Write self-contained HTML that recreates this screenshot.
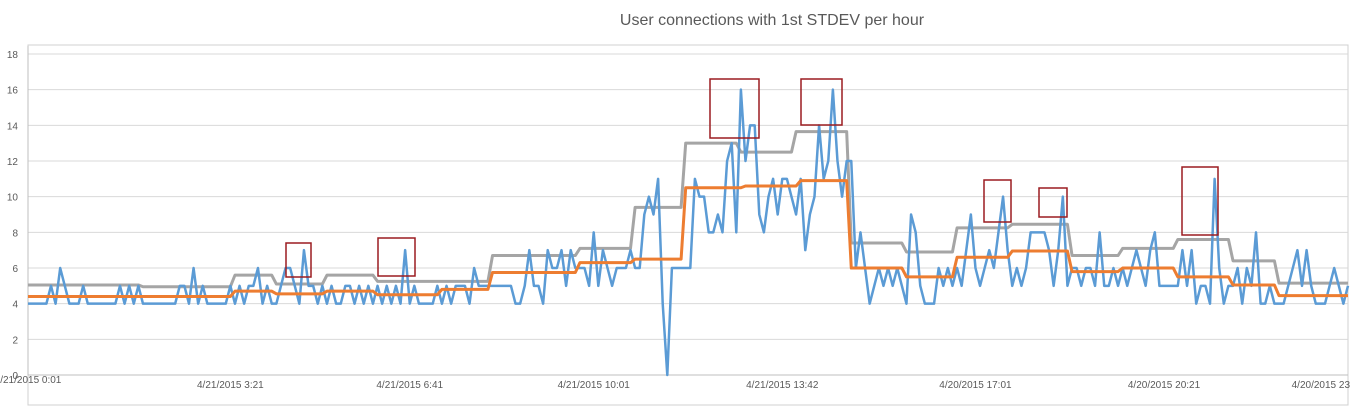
<!DOCTYPE html>
<html><head><meta charset="utf-8"><style>
body{margin:0;background:#fff;}
svg{display:block;font-family:"Liberation Sans",sans-serif;}
</style></head><body>
<svg id="chart" width="1350" height="409" viewBox="0 0 1350 409" xmlns="http://www.w3.org/2000/svg">
<rect x="28" y="45" width="1320" height="360" fill="none" stroke="#d0d0d0" stroke-width="1"/>
<text x="772" y="25" text-anchor="middle" font-size="16" fill="#595959">User connections with 1st STDEV per hour</text>
<g id="grid"></g><g id="yticks"></g><g id="xticks"></g><g id="series"></g><g id="boxes"></g>
</svg>
<script>
const yTicks=[0,2,4,6,8,10,12,14,16,18];
const xTickLabels=["4/21/2015 0:01","4/21/2015 3:21","4/21/2015 6:41","4/21/2015 10:01","4/21/2015 13:42","4/20/2015 17:01","4/20/2015 20:21","4/20/2015 23:4"];
const xTickIdx=[0,44,83,123,164,206,247,282];
const connections=[4,4,4,4,4,5,4,6,5,4,4,4,5,4,4,4,4,4,4,4,5,4,5,4,5,4,4,4,4,4,4,4,4,5,5,4,6,4,5,4,4,4,4,4,
5,4,5,4,5,5,6,4,5,4,4,5,6,6,5,4,7,5,5,4,5,4,
5,4,4,5,5,4,5,4,5,4,5,4,5,4,5,4,7,4,5,4,4,4,4,5,4,5,4,5,5,5,4,6,5,5,5,
5,5,5,5,5,4,4,5,7,5,5,4,7,6,6,7,5,7,6,6,6,5,8,5,7,6,5,6,6,6,7,6,6,
9,10,9,11,4,0,6,6,6,6,6,
11,10,10,8,8,9,8,12,13,8,16,12,14,14,9,8,10,11,9,11,11,10,9,11,
7,9,10,14,11,12,16,12,10,12,12,6,8,
6,4,5,6,5,6,5,6,5,4,9,8,5,4,4,4,6,5,6,5,6,5,
7,9,6,5,6,7,6,8,10,7,5,6,5,6,8,8,8,8,7,5,7,10,5,6,6,5,
6,6,5,8,5,5,6,5,6,5,6,7,6,5,7,8,5,5,5,5,5,7,5,7,
4,5,5,4,11,6,4,5,5,6,4,6,5,8,4,4,5,4,4,4,5,6,7,5,
7,5,4,4,4,5,6,5,4,5];
// step series: [startIndex, endIndex, value]
const meanSteps=[[0,44,4.4],[45,53,4.7],[54,64,4.55],[65,75,4.7],[76,89,4.5],[90,100,4.8],[101,119,5.75],[120,131,6.3],[132,142,6.5],[143,155,10.5],[156,167,10.6],[168,178,10.9],[179,190,6.0],[191,201,5.5],[202,213,6.6],[214,226,6.95],[227,237,5.8],[238,249,6.0],[250,261,5.5],[262,271,5.05],[272,287,4.45]];
const stdSteps=[[0,24,5.05],[25,44,4.95],[45,53,5.6],[54,64,5.1],[65,75,5.6],[76,100,5.25],[101,119,6.7],[120,131,7.1],[132,142,9.4],[143,154,13.0],[155,166,12.5],[167,178,13.65],[179,190,7.4],[191,201,6.9],[202,213,8.25],[214,226,8.45],[227,237,6.7],[238,249,7.1],[250,261,7.6],[262,271,6.4],[272,287,5.15]];
const x0=28,x1=1348,yB=375,yT=54,N=connections.length;
const X=i=>x0+i*(x1-x0)/(N-1);
const Y=v=>yB-v*(yB-yT)/18;
const NS="http://www.w3.org/2000/svg";
function mk(t,a,p){const e=document.createElementNS(NS,t);for(const k in a)e.setAttribute(k,a[k]);p.appendChild(e);return e;}
const grid=document.getElementById('grid'),yt=document.getElementById('yticks'),xt=document.getElementById('xticks'),ser=document.getElementById('series'),bx=document.getElementById('boxes');
yTicks.forEach(v=>{
 const l=mk('line',{x1:x0,x2:x1,y1:Y(v),y2:Y(v),stroke:v===0?'#bfbfbf':'#d9d9d9','stroke-width':1},grid);
 
 
 const t=mk('text',{x:18,y:Y(v)+4,'text-anchor':'end','font-size':10,fill:'#595959'},yt);t.textContent=v;
 
 
});
const ax=mk('line',{x1:x0,x2:x0,y1:yT-8,y2:yB,stroke:'#bfbfbf','stroke-width':1},grid);


xTickLabels.forEach((s,k)=>{
 const t=mk('text',{x:X(xTickIdx[k]),y:k===0?383:388,'text-anchor':'middle','font-size':10,fill:'#595959'},xt);t.textContent=s;
 
 
});
function stepPts(steps){const p=[];steps.forEach(s=>{p.push(X(s[0])+','+Y(s[2]));p.push(X(s[1])+','+Y(s[2]));});return p.join(' ');}
const g=mk('polyline',{points:stepPts(stdSteps),fill:'none',stroke:'#a5a5a5','stroke-width':3,'stroke-linejoin':'round'},ser);


const b=mk('polyline',{points:connections.map((v,i)=>X(i)+','+Y(v)).join(' '),fill:'none',stroke:'#5b9bd5','stroke-width':2.5,'stroke-linejoin':'round'},ser);


const o=mk('polyline',{points:stepPts(meanSteps),fill:'none',stroke:'#ed7d31','stroke-width':3,'stroke-linejoin':'round'},ser);


[[286,243,25,34],[378,238,37,38],[710,79,49,59],[801,79,41,46],[984,180,27,42],[1039,188,28,29],[1182,167,36,68]].forEach(r=>{
 const e=mk('rect',{x:r[0],y:r[1],width:r[2],height:r[3],fill:'none',stroke:'#9b1c20','stroke-width':1.5},bx);
 
 
});
</script>
</body></html>
